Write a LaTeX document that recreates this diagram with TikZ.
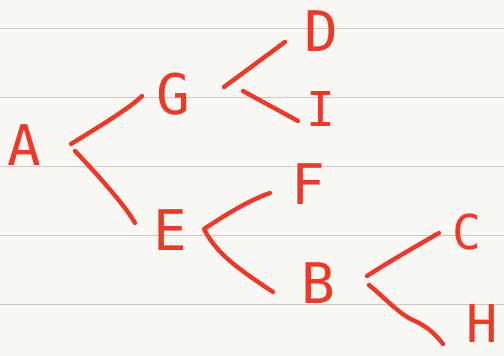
\documentclass[tikz,border=0pt]{standalone}
\usepackage{fontspec}
\newfontfamily\hand{DejaVu Sans Mono}
\usetikzlibrary{calc}
\definecolor{ink}{RGB}{234,58,42}
\definecolor{paper}{RGB}{250,248,244}
\definecolor{rulecol}{RGB}{204,201,197}
\begin{document}
\begin{tikzpicture}[x=1pt,y=-1pt,
  letter/.style={text=ink,font=\hand\fontsize{56}{56}\selectfont,inner sep=0pt},
  smallletter/.style={letter,font=\hand\fontsize{48}{48}\selectfont},
  edgeletter/.style={letter,font=\hand\fontsize{52}{52}\selectfont},
  edge/.style={draw=ink,line width=4.4pt,line cap=round,line join=round},
  paperline/.style={draw=rulecol,line width=1.2pt}]
\fill[paper] (0,0) rectangle (504,356);
\useasboundingbox (0,0) rectangle (504,356);
\foreach \yy in {28.3,97.3,166.3,235.3,304.3} \draw[paperline] (0,\yy) -- (504,\yy);
% letters
\node[letter] (A) at (24,145) {A};
\node[letter] (G) at (173,94) {G};
\node[letter] (D) at (321,31) {D};
\node[smallletter] (I) at (321,109) {I};
\node[letter] (F) at (308,184) {F};
\node[letter] (E) at (170,230) {E};
\node[letter] (B) at (318,283) {B};
\node[smallletter] (C) at (467,232) {C};
\node[edgeletter] (H) at (482,324) {H};
% connectors
\draw[edge] ($(A)+(47,-1)$) .. controls ($(A)+(76,-19)$) and ($(G)+(-43,14)$) .. ($(G)+(-31,2)$);
\draw[edge] ($(A)+(51,6)$) .. controls ($(A)+(71,27)$) and ($(E)+(-45,-25)$) .. ($(E)+(-35,-7)$);
\draw[edge] ($(G)+(51,-7)$) -- ($(D)+(-36,11)$);
\draw[edge] ($(G)+(70,-3)$) -- ($(I)+(-23,12)$);
\draw[edge] ($(E)+(34,-1)$) .. controls ($(E)+(60,-18)$) and ($(F)+(-58,16)$) .. ($(F)+(-38,9)$);
\draw[edge] ($(E)+(35,1)$) .. controls ($(E)+(48,25)$) and ($(B)+(-78,-13)$) .. ($(B)+(-45,9)$);
\draw[edge] ($(B)+(49,-7)$) .. controls ($(B)+(77,-25)$) and ($(C)+(-47,12)$) .. ($(C)+(-28,1)$);
\draw[edge] ($(B)+(51,2)$) .. controls ($(B)+(67,15)$) and ($(B)+(82,32)$) .. ($(B)+(97,38)$)
  .. controls ($(B)+(110,44)$) and ($(H)+(-46,11)$) .. ($(H)+(-39,20)$);
\end{tikzpicture}
\end{document}
